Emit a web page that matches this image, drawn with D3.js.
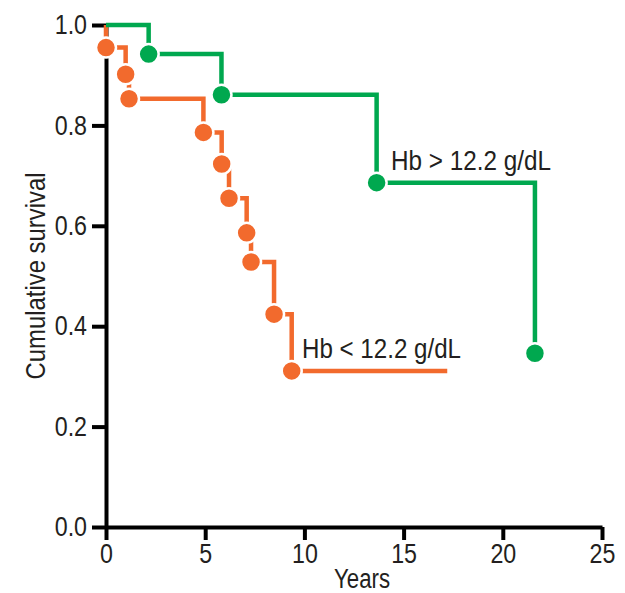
<!DOCTYPE html>
<html>
<head>
<meta charset="utf-8">
<script src="https://cdn.jsdelivr.net/npm/d3@7"></script>
<style>
  body { margin: 0; background: #fff; }
  text { font-family: "Liberation Sans", Arial, sans-serif; fill: #231f20; }
</style>
</head>
<body>
<div id="chart"></div>
<script>
// Hb < 12.2 g/dL group (event times in years, survival)
const lowTimes = [0, 0.99, 1.16, 4.91, 5.83, 6.2, 7.09, 7.31, 8.47, 9.36];
const lowSurv = [0.955, 0.902, 0.853, 0.786, 0.723, 0.655, 0.586, 0.528, 0.424, 0.311];
const lowEnd = 17.2;

// Hb > 12.2 g/dL group
const highTimes = [2.15, 5.82, 13.64, 21.62];
const highSurv = [0.942, 0.861, 0.686, 0.346];

const xTicks = [0, 5, 10, 15, 20, 25];
const yTicks = [0, 0.2, 0.4, 0.6, 0.8, 1.0];

const W = 625, H = 593;
const orange = "#f26a2d";
const green = "#00a84f";
const fontSize = 27;

const svg = d3.select("#chart").append("svg")
    .attr("width", W).attr("height", H);

const x = d3.scaleLinear().domain([0, 25]).range([106, 602]);
const y = d3.scaleLinear().domain([0, 1]).range([527, 25]);

// the reference uses a condensed face, so squeeze the text a bit
function condense(sel, factor) {
    sel.each(function () {
        const len = this.getComputedTextLength();
        d3.select(this).attr("textLength", len * factor).attr("lengthAdjust", "spacingAndGlyphs");
    });
}
function fitTo(sel, width) {
    sel.attr("textLength", width).attr("lengthAdjust", "spacingAndGlyphs");
}

// axes
const xAxis = svg.append("g")
    .attr("transform", `translate(0,${y(0)})`)
    .call(d3.axisBottom(x).tickValues(xTicks).tickSize(13).tickSizeOuter(0).tickPadding(4));
const yAxis = svg.append("g")
    .attr("transform", `translate(${x(0)},0)`)
    .call(d3.axisLeft(y).tickValues(yTicks).tickSize(14).tickSizeOuter(0).tickPadding(5)
        .tickFormat(d3.format(".1f")));

[xAxis, yAxis].forEach(function (g) {
    g.select(".domain").attr("stroke", "#000").attr("stroke-width", 4);
    g.selectAll(".tick line").attr("stroke", "#000").attr("stroke-width", 4);
    g.selectAll(".tick text").attr("font-size", fontSize)
        .attr("font-family", null).style("fill", "#231f20")
        .call(condense, 0.86);
});

// axis titles
svg.append("text")
    .attr("x", 362).attr("y", 588)
    .attr("text-anchor", "middle").attr("font-size", 27)
    .text("Years")
    .call(fitTo, 56);
svg.append("text")
    .attr("transform", `translate(45,${y(0.5)}) rotate(-90)`)
    .attr("text-anchor", "middle").attr("font-size", 28)
    .text("Cumulative survival")
    .call(fitTo, 207);

// step curves
function stepPoints(times, surv, end) {
    let pts = [[0, 1]];
    times.forEach(function (t, i) {
        pts.push([t, surv[i]]);
    });
    if (end !== undefined) pts.push([end, surv[surv.length - 1]]);
    return pts;
}

const line = d3.line()
    .x(d => x(d[0]))
    .y(d => y(d[1]))
    .curve(d3.curveStepAfter);

svg.append("path")
    .datum(stepPoints(lowTimes, lowSurv, lowEnd))
    .attr("d", line)
    .attr("fill", "none").attr("stroke", orange).attr("stroke-width", 4.5);

svg.append("path")
    .datum(stepPoints(highTimes, highSurv))
    .attr("d", line)
    .attr("fill", "none").attr("stroke", green).attr("stroke-width", 4.5);

// markers
function dots(times, surv, color) {
    svg.append("g").selectAll("circle")
        .data(times.map((t, i) => [t, surv[i]]))
        .enter().append("circle")
        .attr("cx", d => x(d[0]))
        .attr("cy", d => y(d[1]))
        .attr("r", 10)
        .attr("fill", color)
        .attr("stroke", "#fff")
        .attr("stroke-width", 2.5);
}
dots(lowTimes, lowSurv, orange);
dots(highTimes, highSurv, green);

// group labels
svg.append("text")
    .attr("x", 391).attr("y", 170).attr("font-size", fontSize)
    .text("Hb > 12.2 g/dL")
    .call(fitTo, 160);
svg.append("text")
    .attr("x", 302).attr("y", 358).attr("font-size", fontSize)
    .text("Hb < 12.2 g/dL")
    .call(fitTo, 159);
</script>
</body>
</html>
